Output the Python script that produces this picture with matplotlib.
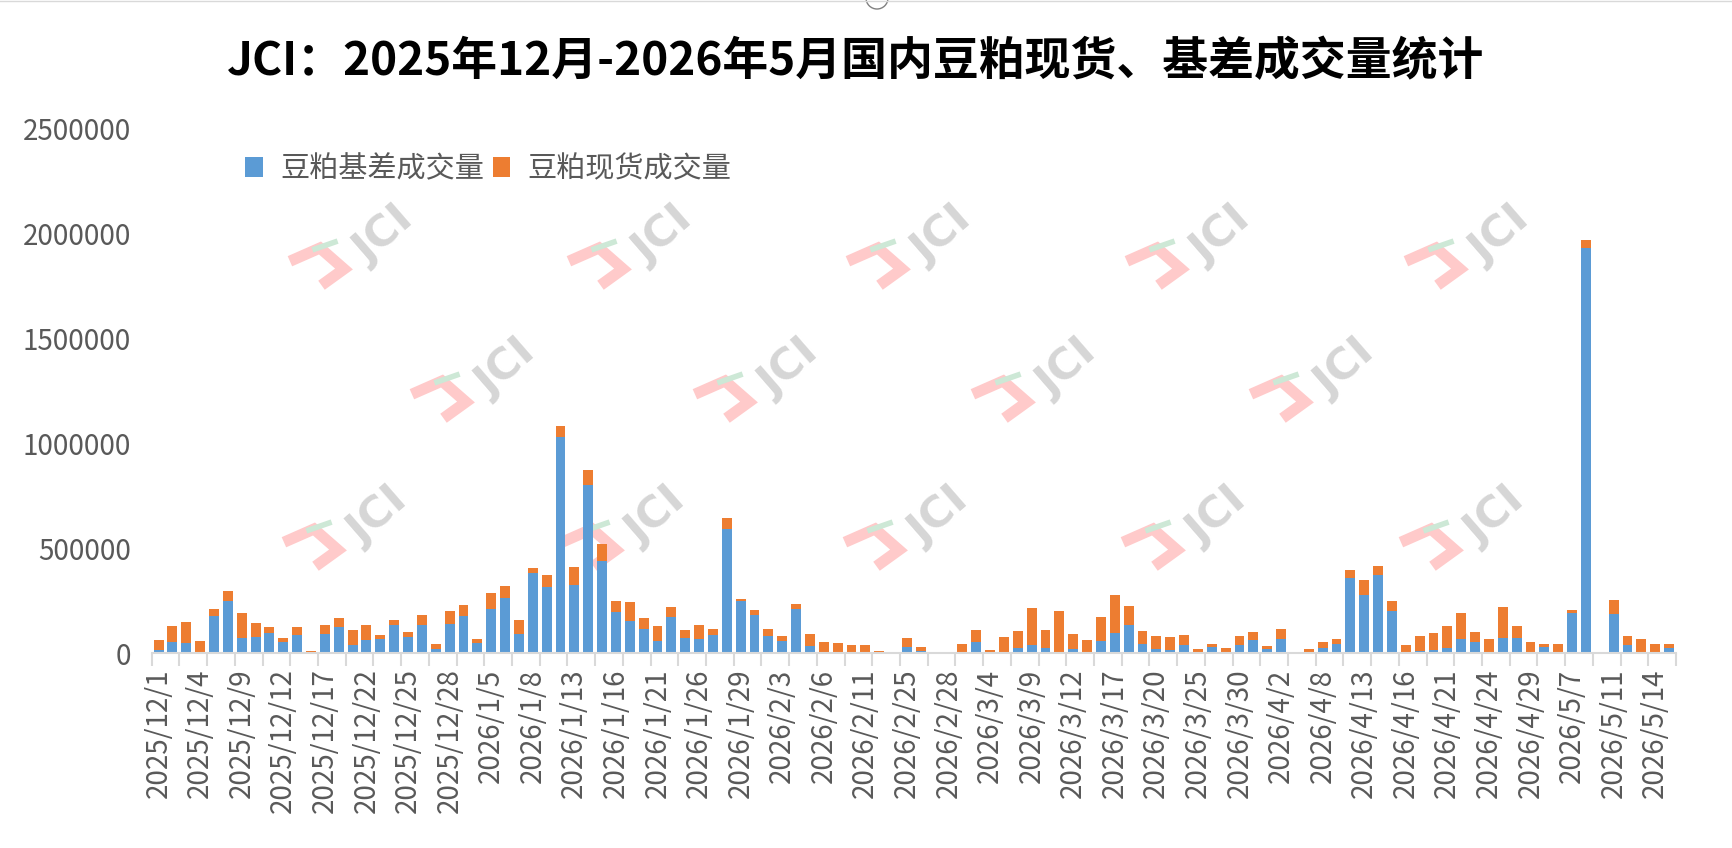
import matplotlib
matplotlib.use('Agg')
import matplotlib.pyplot as plt
from matplotlib.lines import Line2D
from matplotlib.patches import Patch, Ellipse
import numpy as np

plt.rcParams['font.family'] = ['Noto Sans CJK SC', 'DejaVu Sans']

# 日期（交易日）
dates = [
    '2025/12/1', '2025/12/2', '2025/12/3', '2025/12/4', '2025/12/5', '2025/12/8',
    '2025/12/9', '2025/12/10', '2025/12/11', '2025/12/12', '2025/12/15', '2025/12/16',
    '2025/12/17', '2025/12/18', '2025/12/19', '2025/12/22', '2025/12/23', '2025/12/24',
    '2025/12/25', '2025/12/26', '2025/12/27', '2025/12/28', '2025/12/29', '2025/12/30',
    '2026/1/5', '2026/1/6', '2026/1/7', '2026/1/8', '2026/1/9', '2026/1/12',
    '2026/1/13', '2026/1/14', '2026/1/15', '2026/1/16', '2026/1/19', '2026/1/20',
    '2026/1/21', '2026/1/22', '2026/1/23', '2026/1/26', '2026/1/27', '2026/1/28',
    '2026/1/29', '2026/1/30', '2026/2/2', '2026/2/3', '2026/2/4', '2026/2/5',
    '2026/2/6', '2026/2/9', '2026/2/10', '2026/2/11', '2026/2/12', '2026/2/24',
    '2026/2/25', '2026/2/26', '2026/2/27', '2026/2/28', '2026/3/2', '2026/3/3',
    '2026/3/4', '2026/3/5', '2026/3/6', '2026/3/9', '2026/3/10', '2026/3/11',
    '2026/3/12', '2026/3/13', '2026/3/16', '2026/3/17', '2026/3/18', '2026/3/19',
    '2026/3/20', '2026/3/23', '2026/3/24', '2026/3/25', '2026/3/26', '2026/3/27',
    '2026/3/30', '2026/3/31', '2026/4/1', '2026/4/2', '2026/4/3', '2026/4/7',
    '2026/4/8', '2026/4/9', '2026/4/10', '2026/4/13', '2026/4/14', '2026/4/15',
    '2026/4/16', '2026/4/17', '2026/4/20', '2026/4/21', '2026/4/22', '2026/4/23',
    '2026/4/24', '2026/4/27', '2026/4/28', '2026/4/29', '2026/4/30', '2026/5/6',
    '2026/5/7', '2026/5/8', '2026/5/9', '2026/5/11', '2026/5/12', '2026/5/13',
    '2026/5/14', '2026/5/15',
]

# 豆粕基差成交量（吨）
basis_vol = [
    17000, 56000, 49000, 6000, 180000, 250000, 75000, 78000, 97000, 56000,
    88000, 2000, 94000, 126000, 40000, 65000, 68000, 135000, 78000, 135000,
    21000, 142000, 180000, 49000, 212000, 266000, 94000, 381000, 317000, 1031000,
    327000, 801000, 438000, 199000, 155000, 116000, 59000, 174000, 75000, 68000,
    88000, 594000, 247000, 183000, 84000, 59000, 212000, 33000, 0, 0,
    5000, 0, 0, 0, 30000, 11000, 0, 0, 0, 53000,
    0, 5000, 24000, 40000, 24000, 5000, 21000, 5000, 59000, 97000,
    135000, 43000, 21000, 14000, 40000, 5000, 30000, 0, 40000, 62000,
    21000, 68000, 0, 0, 24000, 43000, 358000, 279000, 374000, 202000,
    0, 11000, 14000, 24000, 68000, 53000, 5000, 72000, 72000, 0,
    30000, 0, 193000, 1932000, 0, 186000, 40000, 0, 0, 24000,
]

# 豆粕现货成交量（吨）
spot_vol = [
    47000, 75000, 101000, 53000, 32000, 48000, 118000, 67000, 29000, 17000,
    38000, 9000, 41000, 43000, 72000, 70000, 20000, 24000, 24000, 48000,
    24000, 60000, 51000, 20000, 76000, 56000, 65000, 27000, 57000, 55000,
    86000, 75000, 84000, 51000, 90000, 53000, 72000, 47000, 37000, 67000,
    28000, 53000, 13000, 24000, 32000, 24000, 24000, 58000, 53000, 48000,
    33000, 38000, 10000, 5000, 42000, 18000, 5000, 0, 43000, 57000,
    14000, 71000, 81000, 175000, 86000, 196000, 70000, 57000, 113000, 180000,
    90000, 62000, 60000, 62000, 46000, 14000, 13000, 24000, 41000, 38000,
    12000, 47000, 5000, 19000, 29000, 24000, 39000, 70000, 42000, 46000,
    38000, 70000, 82000, 105000, 123000, 47000, 62000, 148000, 57000, 53000,
    13000, 43000, 13000, 39000, 5000, 67000, 41000, 67000, 43000, 19000,
]

series_names = ['豆粕基差成交量', '豆粕现货成交量']
title = 'JCI：2025年12月-2026年5月国内豆粕现货、基差成交量统计'

blue = '#5B9BD5'
orange = '#ED7D31'
grey_txt = '#595959'
axis_grey = '#D9D9D9'

W, H = 1733, 848
fig = plt.figure(figsize=(W / 100, H / 100), dpi=100)
ax = fig.add_axes([151.7 / W, 1 - 653.3 / H, (1676 - 151.7) / W, (653.3 - 129) / H])
ax.set_facecolor('none')

x = np.arange(len(dates))
ax.bar(x, basis_vol, width=0.72, color=blue, zorder=2)
ax.bar(x, spot_vol, width=0.72, bottom=basis_vol, color=orange, zorder=2)

ax.set_xlim(-0.5, len(dates) - 0.5)
ax.set_ylim(0, 2500000)
ax.set_yticks(np.arange(0, 2500001, 500000))
ax.set_yticklabels([str(v) for v in range(0, 2500001, 500000)])

# 标签每 3 个交易日一个，刻度线每 2 个
ax.set_xticks(x[::3])
ax.set_xticklabels(dates[::3], rotation=90)
ax.set_xticks(np.arange(-0.5, len(dates), 2), minor=True)

ax.tick_params(axis='x', which='major', length=0, pad=11, labelsize=20, labelcolor=grey_txt)
ax.tick_params(axis='x', which='minor', length=9, width=1.5, color=axis_grey)
ax.tick_params(axis='y', length=0, pad=15, labelsize=20, labelcolor=grey_txt)
for lab in ax.get_xticklabels():
    lab.set_verticalalignment('top')

for s in ['top', 'right', 'left']:
    ax.spines[s].set_visible(False)
ax.spines['bottom'].set_color(axis_grey)
ax.spines['bottom'].set_linewidth(1.5)

fig.text(856 / W, 1 - 62 / H, title, ha='center', va='center',
         fontsize=33, fontweight='heavy', color='black')

handles = [Patch(facecolor=blue), Patch(facecolor=orange)]
fig.legend(handles, series_names, loc='upper left', bbox_to_anchor=(245 / W, 1 - 154 / H),
           ncol=2, frameon=False, fontsize=21, labelcolor=grey_txt,
           handlelength=0.6, handleheight=0.7, handletextpad=0.6, columnspacing=0.3,
           borderpad=0, borderaxespad=0)


# 水印
def fpx(px, py):
    return px / W, 1 - py / H


def watermark(cx, cy):
    hx = [cx - 55, cx - 30, cx - 6, cx - 24]
    hy = [cy + 12, cy + 1, cy + 22, cy + 35]
    fx, fy = zip(*[fpx(a, b) for a, b in zip(hx, hy)])
    fig.add_artist(Line2D(fx, fy, transform=fig.transFigure, color='#FFCACA',
                          linewidth=8, solid_joinstyle='miter', zorder=-1))
    gx, gy = zip(fpx(cx - 35, cy + 2), fpx(cx - 15, cy - 5))
    fig.add_artist(Line2D(gx, gy, transform=fig.transFigure, color='#CDE8D6',
                          linewidth=4, zorder=-1))
    tx, ty = fpx(cx + 34, cy - 12)
    fig.text(tx, ty, 'JCI', rotation=41, ha='center', va='center', fontsize=31,
             fontweight='bold', color='#D6D6D6', family='DejaVu Sans', zorder=-1)


for cx in [350, 629, 908, 1187, 1466]:
    watermark(cx, 247)
for cx in [472, 755, 1033, 1311]:
    watermark(cx, 380)
for cx in [344, 622, 905, 1183, 1461]:
    watermark(cx, 528)

# 顶部的细线和小圆
fig.add_artist(Line2D([0, 1], [1 - 1 / H, 1 - 1 / H], transform=fig.transFigure,
                      color='#D9D9D9', linewidth=1))
fig.add_artist(Ellipse(fpx(877, -2), 22 / W, 22 / H, transform=fig.transFigure,
                       facecolor='white', edgecolor='#808080', linewidth=1))

fig.savefig('out.png', dpi=100, facecolor='white')
